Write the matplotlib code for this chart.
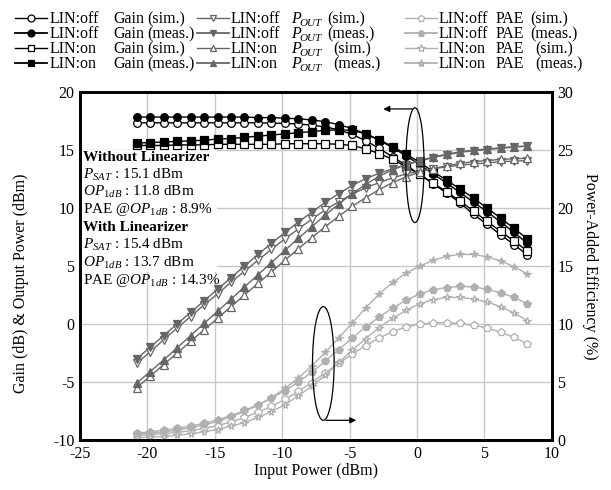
import matplotlib
matplotlib.use("Agg")
import matplotlib.pyplot as plt
from matplotlib.lines import Line2D
from matplotlib.patches import Ellipse, Rectangle

plt.rcParams["font.family"] = ["Liberation Serif", "DejaVu Serif"]
plt.rcParams["mathtext.fontset"] = "custom"
plt.rcParams["mathtext.rm"] = "Liberation Serif"
plt.rcParams["mathtext.it"] = "Liberation Serif:italic"
plt.rcParams["mathtext.bf"] = "Liberation Serif:bold"
plt.rcParams["axes.unicode_minus"] = False

# ---------------------------------------------------------------------------
# Data
# ---------------------------------------------------------------------------
pin = [-20.8, -19.8, -18.8, -17.8, -16.8, -15.8, -14.8, -13.8, -12.8, -11.8,
       -10.8, -9.8, -8.8, -7.8, -6.8, -5.8, -4.8, -3.8, -2.8, -1.8,
       -0.8, 0.2, 1.2, 2.2, 3.2, 4.2, 5.2, 6.2, 7.2, 8.2]

gain_off_sim = [17.35, 17.35, 17.35, 17.35, 17.35, 17.35, 17.35, 17.35, 17.35, 17.35,
                17.33, 17.3, 17.25, 17.15, 17.0, 16.75, 16.35, 15.8, 15.15, 14.4,
                13.7, 12.9, 12.1, 11.3, 10.45, 9.45, 8.6, 7.7, 6.85, 5.95]
gain_off_meas = [17.85, 17.85, 17.85, 17.85, 17.85, 17.85, 17.85, 17.85, 17.85, 17.8,
                 17.8, 17.75, 17.7, 17.6, 17.45, 17.2, 16.85, 16.4, 15.85, 15.2,
                 14.5, 13.75, 12.95, 12.15, 11.35, 10.5, 9.7, 8.8, 7.9, 6.95]
gain_on_sim = [15.4, 15.4, 15.4, 15.45, 15.45, 15.45, 15.5, 15.5, 15.5, 15.5,
               15.5, 15.55, 15.55, 15.55, 15.55, 15.5, 15.4, 15.1, 14.7, 14.2,
               13.55, 12.9, 12.15, 11.4, 10.6, 9.75, 8.85, 8.0, 7.15, 6.3]
gain_on_meas = [15.6, 15.65, 15.7, 15.75, 15.8, 15.85, 15.95, 16.0, 16.1, 16.2,
                16.3, 16.4, 16.5, 16.6, 16.7, 16.75, 16.7, 16.4, 15.9, 15.3,
                14.65, 13.95, 13.15, 12.4, 11.65, 10.85, 10.0, 9.15, 8.25, 7.35]

pout_off_sim = [-3.4, -2.4, -1.35, -0.35, 0.65, 1.65, 2.6, 3.6, 4.55, 5.5,
                6.45, 7.35, 8.2, 9.05, 9.85, 10.55, 11.2, 11.75, 12.2, 12.6,
                12.95, 13.2, 13.4, 13.55, 13.7, 13.8, 13.9, 14.0, 14.05, 14.1]
pout_off_meas = [-3.0, -2.0, -1.0, 0.0, 1.0, 2.0, 3.0, 4.0, 5.0, 6.0,
                 6.95, 7.9, 8.8, 9.65, 10.5, 11.25, 11.95, 12.55, 13.0, 13.4,
                 13.75, 14.05, 14.35, 14.6, 14.8, 14.95, 15.05, 15.15, 15.25, 15.35]
pout_on_sim = [-5.5, -4.5, -3.5, -2.5, -1.5, -0.5, 0.5, 1.5, 2.5, 3.5,
               4.5, 5.5, 6.5, 7.45, 8.4, 9.3, 10.15, 10.9, 11.6, 12.2,
               12.7, 13.1, 13.4, 13.65, 13.85, 14.0, 14.1, 14.2, 14.25, 14.3]
pout_on_meas = [-5.1, -4.1, -3.1, -2.05, -1.0, 0.05, 1.1, 2.15, 3.2, 4.25,
                5.3, 6.35, 7.4, 8.4, 9.4, 10.35, 11.25, 12.05, 12.75, 13.3,
                13.75, 14.1, 14.4, 14.65, 14.85, 15.0, 15.1, 15.2, 15.3, 15.35]

pae_off_sim = [0.4, 0.45, 0.55, 0.65, 0.8, 1.0, 1.25, 1.55, 1.95, 2.4,
               2.9, 3.5, 4.2, 4.95, 5.8, 6.6, 7.4, 8.15, 8.8, 9.35,
               9.75, 10.0, 10.1, 10.1, 10.05, 9.9, 9.65, 9.3, 8.85, 8.3]
pae_off_meas = [0.6, 0.7, 0.85, 1.0, 1.2, 1.45, 1.75, 2.1, 2.55, 3.05,
                3.6, 4.25, 5.0, 5.85, 6.8, 7.8, 8.8, 9.75, 10.6, 11.4,
                12.05, 12.6, 12.95, 13.15, 13.25, 13.2, 13.0, 12.7, 12.3, 11.75]
pae_on_sim = [0.2, 0.25, 0.3, 0.4, 0.55, 0.7, 0.9, 1.2, 1.5, 1.95,
              2.45, 3.05, 3.8, 4.65, 5.6, 6.7, 7.75, 8.75, 9.7, 10.5,
              11.2, 11.75, 12.1, 12.3, 12.3, 12.15, 11.9, 11.5, 10.95, 10.3]
pae_on_meas = [0.5, 0.6, 0.7, 0.85, 1.05, 1.3, 1.6, 2.0, 2.45, 3.0,
               3.65, 4.45, 5.35, 6.4, 7.55, 8.8, 10.1, 11.4, 12.6, 13.6,
               14.4, 15.0, 15.5, 15.85, 16.0, 16.0, 15.8, 15.45, 14.95, 14.3]

x_ticks = [-25, -20, -15, -10, -5, 0, 5, 10]
y_left_ticks = [-10, -5, 0, 5, 10, 15, 20]
y_right_ticks = [0, 5, 10, 15, 20, 25, 30]

# legend text pieces per row
legend_state = ["LIN:off", "LIN:off", "LIN:on", "LIN:on"]
legend_kind = ["(sim.)", "(meas.)", "(sim.)", "(meas.)"]
legend_qty = ["Gain", "P", "PAE"]

summary_lines = [
    ("Without Linearizer", True),
    ("$P_{SAT}$ : 15.1 dBm", False),
    ("$OP_{\\mathrm{1}dB}$ : 11.8 dBm", False),
    ("PAE @$OP_{\\mathrm{1}dB}$ : 8.9%", False),
    ("With Linearizer", True),
    ("$P_{SAT}$ : 15.4 dBm", False),
    ("$OP_{\\mathrm{1}dB}$ : 13.7 dBm", False),
    ("PAE @$OP_{\\mathrm{1}dB}$ : 14.3%", False),
]

# ---------------------------------------------------------------------------
# Styles
# ---------------------------------------------------------------------------
C_GAIN = "#000000"
C_POUT = "#666666"
C_PAE = "#b0b0b0"
MS = 5.5
W, H = 611, 490

fig = plt.figure(figsize=(W / 100, H / 100), dpi=100)
ax = fig.add_axes([0.131, 0.102, 0.772, 0.71])
ax2 = ax.twinx()

styles = []  # (color, marker, filled) per series, in legend order


def series(axis, y, color, marker, filled):
    axis.plot(pin, y, color=color, lw=1.0, marker=marker, markersize=MS,
              markerfacecolor=color if filled else "white",
              markeredgecolor=color, markeredgewidth=0.9)
    styles.append((color, marker, filled))


series(ax, gain_off_sim, C_GAIN, "o", False)
series(ax, gain_off_meas, C_GAIN, "o", True)
series(ax, gain_on_sim, C_GAIN, "s", False)
series(ax, gain_on_meas, C_GAIN, "s", True)

series(ax, pout_off_sim, C_POUT, "v", False)
series(ax, pout_off_meas, C_POUT, "v", True)
series(ax, pout_on_sim, C_POUT, "^", False)
series(ax, pout_on_meas, C_POUT, "^", True)

series(ax2, pae_off_sim, C_PAE, "p", False)
series(ax2, pae_off_meas, C_PAE, "p", True)
series(ax2, pae_on_sim, C_PAE, "*", False)
series(ax2, pae_on_meas, C_PAE, "*", True)

# axes
ax.set_xlim(-25, 10)
ax.set_ylim(-10, 20)
ax2.set_ylim(0, 30)
ax.set_xticks(x_ticks)
ax.set_yticks(y_left_ticks)
ax2.set_yticks(y_right_ticks)
ax.grid(True, color="#c8c8c8", lw=1.0)
ax.set_axisbelow(True)
for a in (ax, ax2):
    a.tick_params(length=0, labelsize=11.5, pad=4)
    for s in a.spines.values():
        s.set_linewidth(2.0)
        s.set_color("black")

ax.set_xlabel("Input Power (dBm)", fontsize=11.5, labelpad=1)
ax.set_ylabel("Gain (dB) & Output Power (dBm)", fontsize=11.5)
ax.yaxis.set_label_coords(-0.108, 0.45)
ax2.set_ylabel("Power-Added Efficiency (%)", fontsize=11.5, rotation=270, labelpad=18)

# white patch behind the summary text
ax.add_patch(Rectangle((0.0, 0.483), 0.29, 0.35, transform=ax.transAxes,
                       facecolor="white", edgecolor="none", zorder=1))
y0 = 0.813
for i, (txt, bold) in enumerate(summary_lines):
    ax.text(0.006, y0 - i * 0.0505, txt, transform=ax.transAxes, fontsize=11,
            fontweight="bold" if bold else "normal", va="center", ha="left", zorder=3)

# ellipse + arrow to the left axis (gain)
ax.add_patch(Ellipse((-0.15, 13.7), 1.35, 9.9, fill=False, edgecolor="black", lw=0.9, zorder=4))
ax.annotate("", xy=(-2.7, 18.55), xytext=(-0.15, 18.55),
            arrowprops=dict(arrowstyle="-|>", color="black", lw=0.9, mutation_scale=9))

# ellipse + arrow to the right axis (PAE)
ax2.add_patch(Ellipse((-6.95, 6.6), 1.6, 9.8, fill=False, edgecolor="black", lw=0.9, zorder=4))
ax2.annotate("", xy=(-4.3, 1.7), xytext=(-6.95, 1.7),
             arrowprops=dict(arrowstyle="-|>", color="black", lw=0.9, mutation_scale=9))

# ---------------------------------------------------------------------------
# Legend, laid out by hand so the three columns share the same rows
# ---------------------------------------------------------------------------
# pixel layout: handle start, state text, quantity text, (sim./meas.) text for off / on rows
columns = [(15, 50, 113, (147, 147)), (197, 231, 291, (327, 333)), (405, 439, 496, (530, 535))]
row_centres = [18, 33, 48, 63]
for c, (hx, sx, qx, kx) in enumerate(columns):
    for r, yc in enumerate(row_centres):
        color, marker, filled = styles[c * 4 + r]
        yf = 1 - yc / H
        fig.add_artist(Line2D([hx / W, (hx + 32) / W], [yf, yf], transform=fig.transFigure,
                              color=color, lw=1.3 if filled else 1.0))
        fig.add_artist(Line2D([(hx + 16) / W], [yf], transform=fig.transFigure,
                              marker=marker, markersize=6 if marker == "*" else 5,
                              markerfacecolor=color if filled else "white",
                              markeredgecolor=color, markeredgewidth=0.9))
        yb = 1 - (yc + 5) / H
        fig.text(sx / W, yb, legend_state[r], fontsize=11.5, va="baseline", ha="left")
        italic = legend_qty[c] == "P"
        fig.text(qx / W, yb, legend_qty[c], fontsize=11.5, va="baseline", ha="left",
                 style="italic" if italic else "normal")
        if italic:
            # subscript "OUT", set slightly below the baseline
            fig.text((qx + 8) / W, 1 - (yc + 8) / H, "OUT", fontsize=8, style="italic",
                     va="baseline", ha="left")
        fig.text(kx[r // 2] / W, yb, legend_kind[r], fontsize=11.5, va="baseline", ha="left")

fig.savefig("out.png", dpi=100)
